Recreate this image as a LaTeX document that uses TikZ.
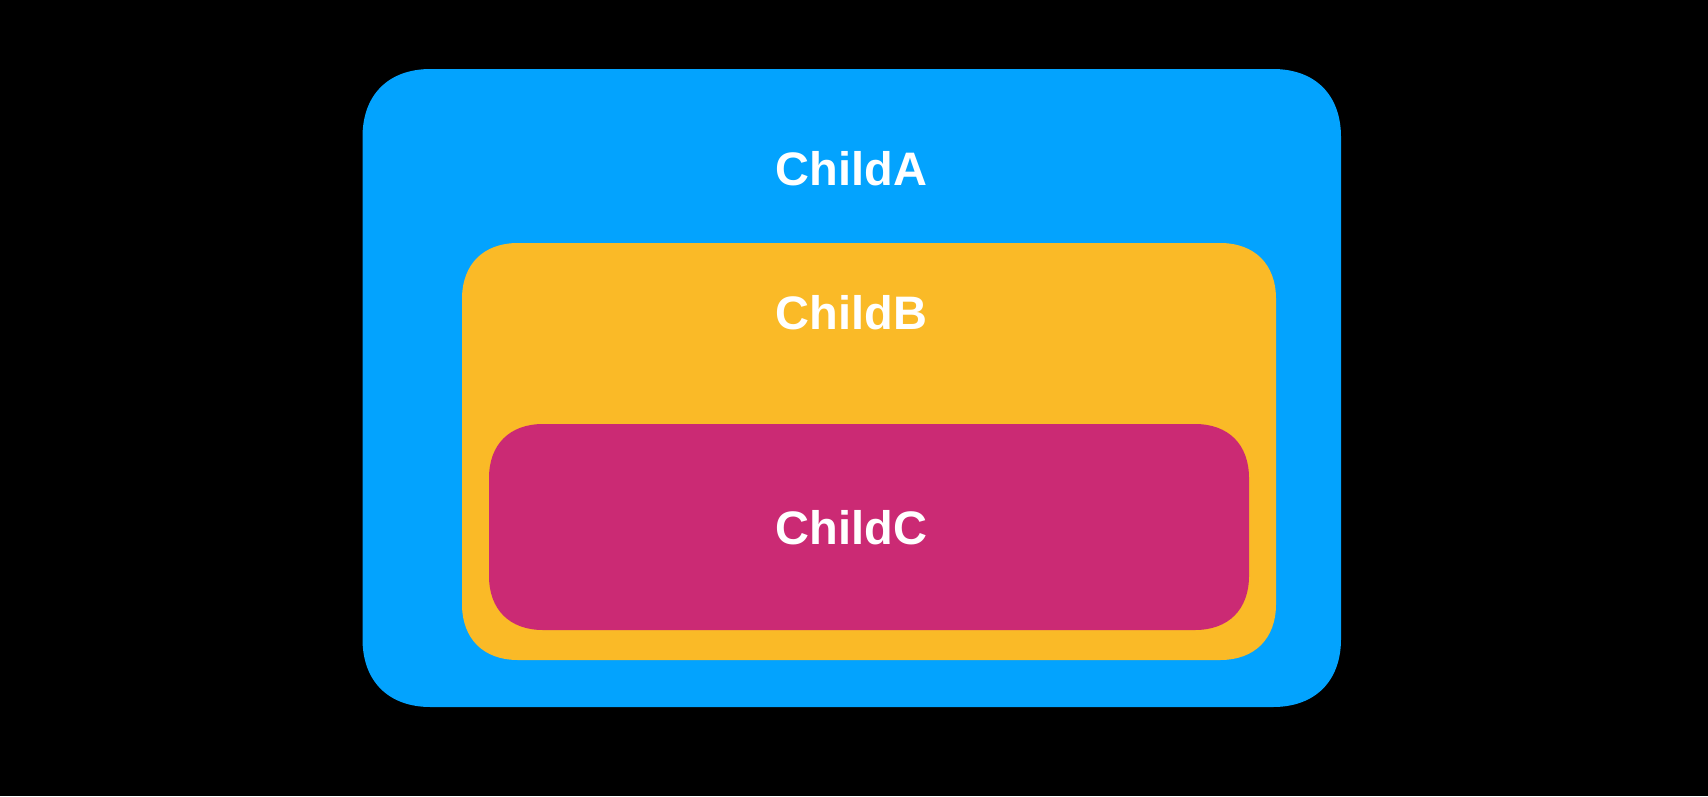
\documentclass[tikz,border=0pt]{standalone}
\usepackage{fontspec}
\setmainfont{Liberation Sans}
\definecolor{cblue}{HTML}{03A3FE}
\definecolor{cyellow}{HTML}{FABA27}
\definecolor{cmagenta}{HTML}{CB2A74}
\newcommand\sqbox[6]{%
  \fill[#1] ({#2+#6},#3) -- ({#4-#6},#3)
    .. controls ({#4-0.38*#6},#3) and (#4,{#3+0.38*#6}) .. (#4,{#3+#6})
    -- (#4,{#5-#6})
    .. controls (#4,{#5-0.38*#6}) and ({#4-0.38*#6},#5) .. ({#4-#6},#5)
    -- ({#2+#6},#5)
    .. controls ({#2+0.38*#6},#5) and (#2,{#5-0.38*#6}) .. (#2,{#5-#6})
    -- (#2,{#3+#6})
    .. controls (#2,{#3+0.38*#6}) and ({#2+0.38*#6},#3) .. cycle;}
\tikzset{
  lbl/.style={text=white, font=\fontsize{47}{50}\selectfont\bfseries, anchor=base, inner sep=0pt}
}
\begin{document}
\begin{tikzpicture}[x=1pt,y=-1pt]
  \fill[black] (0,0) rectangle (1708,796);
  \useasboundingbox (0,0) rectangle (1708,796);
  \sqbox{cblue}{362.5}{69}{1341}{707}{68}
  \sqbox{cyellow}{462}{243}{1276}{660}{56}
  \sqbox{cmagenta}{489}{424}{1249}{630}{54}
  \node[lbl] (childA) at (851.5,185.7) {ChildA};
  \node[lbl] (childB) at (851.5,329) {ChildB};
  \node[lbl] (childC) at (851.5,544) {ChildC};
\end{tikzpicture}
\end{document}
